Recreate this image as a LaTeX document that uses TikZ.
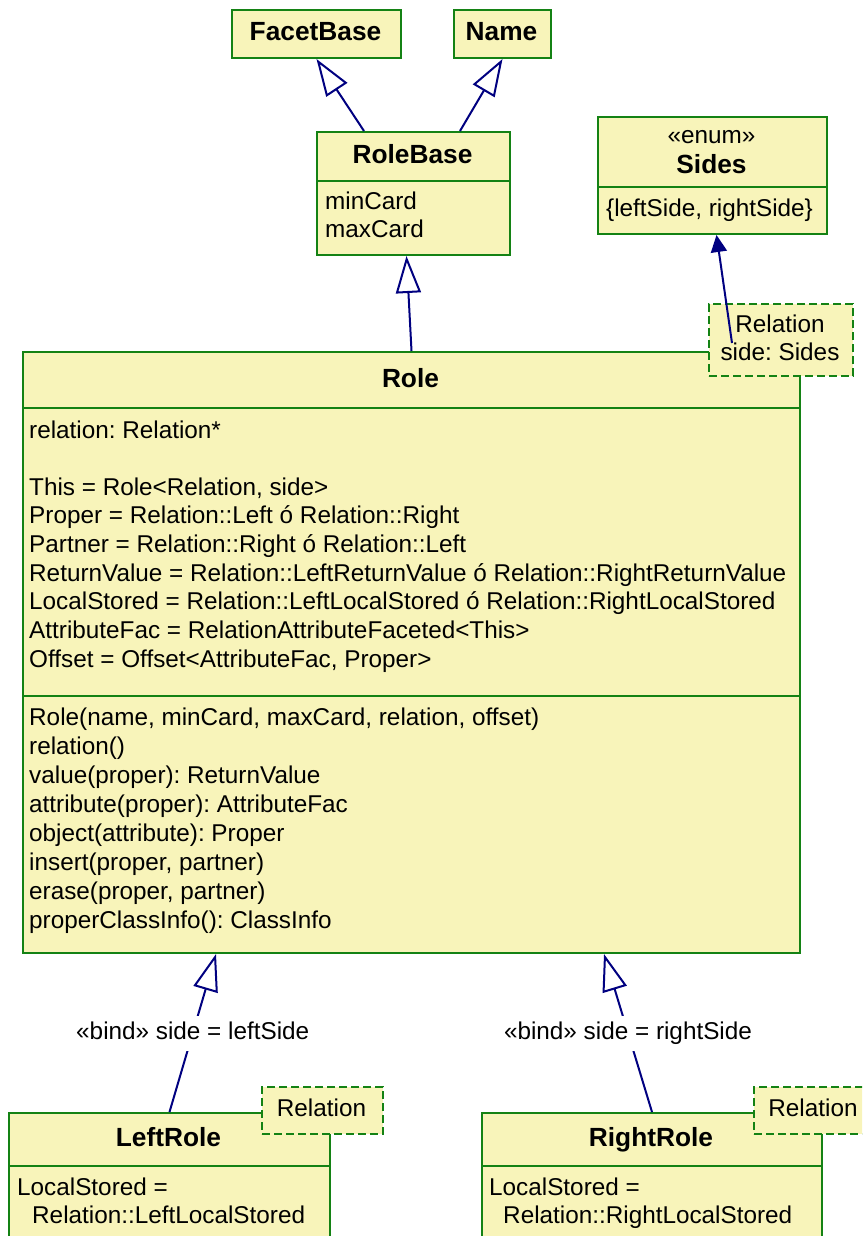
\documentclass[tikz,border=0pt]{standalone}
\usepackage{fontspec}
\setmainfont{Liberation Sans}
\usepackage{xcolor}
\usepackage{tikz}
\usetikzlibrary{arrows.meta}
\definecolor{Gelb}{RGB}{248,244,186}
\definecolor{Gruen}{RGB}{20,130,20}
\definecolor{Navy}{RGB}{0,0,128}
\newcommand{\Schrift}{\fontsize{24.3}{28.7}\selectfont\frenchspacing}
\tikzset{
  Klasse/.style={draw=Gruen, fill=Gelb, line width=2pt, inner sep=0pt, anchor=north west}, % Klassenrahmen
  Vorlage/.style={Klasse, dash pattern=on 8pt off 4pt}, % Template-Parameter
  Trenn/.style={draw=Gruen, line width=2pt}, % Trennlinie im Rahmen
  Zeile/.style={anchor=base west, inner sep=0pt}, % Textzeile
  Mitte/.style={anchor=base, inner sep=0pt},
  Titel/.style={Mitte, font=\fontsize{26.3}{28.7}\selectfont\bfseries},
  Erbt/.style={draw=Navy, line width=2pt, -{Triangle[open, length=37pt, width=25pt]}}, % Vererbung
  Pfeil/.style={draw=Navy, line width=2pt, -{Triangle[length=17pt, width=16pt]}},
  Bind/.style={fill=white, inner sep=6pt, text height=18pt, text depth=5pt}
}

\begin{document}
\begin{tikzpicture}[x=1pt, y=-1pt, font=\Schrift]
\useasboundingbox (0,0) rectangle (862,1236);
\clip (0,0) rectangle (862,1236);

%Klassen
\node[Klasse, minimum width=169, minimum height=48] (FB) at (231,9) {};
\node[Klasse, minimum width=97, minimum height=48] (NA) at (453,9) {};
\node[Klasse, minimum width=193, minimum height=123] (RB) at (316,131) {};
\node[Klasse, minimum width=229, minimum height=117] (SI) at (597,116) {};
\node[Klasse, minimum width=777, minimum height=601] (RO) at (22,351) {};
\node[Klasse, minimum width=321, minimum height=160] (LR) at (8,1112) {};
\node[Klasse, minimum width=340, minimum height=160] (RR) at (481,1112) {};

%Trennlinien
\foreach \k/\y in {RB/181, SI/187, RO/408, RO/696, LR/1166, RR/1166}
  \draw[Trenn] (\k.west |- 0,\y) -- (\k.east |- 0,\y);

%Template-Parameter
\node[Vorlage, minimum width=144, minimum height=72] (RT) at (708,303) {};
\node[Vorlage, minimum width=121, minimum height=47] (LT) at (261,1086) {};
\node[Vorlage, minimum width=121, minimum height=47] (RRT) at (753,1086) {};

%Texte
\node[Titel] (FB-t) at (315.5,41) {FacetBase};
\node[Titel] (NA-t) at (501.5,41) {Name};

\node[Titel] (RB-t) at (412.5,163) {RoleBase};
\node[Zeile] (RB-a1) at (325,209) {minCard};
\node[Zeile] (RB-a2) at (325,237) {maxCard};

\node[Mitte] (SI-s) at (711.5,143) {«enum»};
\node[Titel] (SI-t) at (711.5,173) {Sides};
\node[Zeile] (SI-a) at (606,216) {\{leftSide, rightSide\}};

\node[Mitte] (RT-1) at (780,332) {Relation};
\node[Mitte] (RT-2) at (780,360) {side: Sides};

\node[Titel] (RO-t) at (410.5,387) {Role};
\node[Zeile] (RO-a) at (29,438) {relation: Relation*};
\foreach \t [count=\i] in {%
  {This = Role<Relation, side>},
  {Proper = Relation::Left ó Relation::Right},
  {Partner = Relation::Right ó Relation::Left},
  {ReturnValue = Relation::LeftReturnValue ó Relation::RightReturnValue},
  {LocalStored = Relation::LeftLocalStored ó Relation::RightLocalStored},
  {AttributeFac = RelationAttributeFaceted<This>},
  {Offset = Offset<AttributeFac, Proper>}}
  \node[Zeile] (RO-a\i) at (29,{495+(\i-1)*28.67}) {\t};
\foreach \t [count=\i] in {%
  {Role(name, minCard, maxCard, relation, offset)},
  {relation()},
  {value(proper): ReturnValue},
  {attribute(proper): AttributeFac},
  {object(attribute): Proper},
  {insert(proper, partner)},
  {erase(proper, partner)},
  {properClassInfo(): ClassInfo}}
  \node[Zeile] (RO-m\i) at (29,{725+(\i-1)*29}) {\t};

\node[Titel] (LR-t) at (168.5,1146) {LeftRole};
\node[Zeile] (LR-a1) at (17,1195) {LocalStored =};
\node[Zeile] (LR-a2) at (32,1223) {Relation::LeftLocalStored};
\node[Mitte] (LT-t) at (321.5,1116) {Relation};

\node[Titel] (RR-t) at (651,1146) {RightRole};
\node[Zeile] (RR-a1) at (489,1195) {LocalStored =};
\node[Zeile] (RR-a2) at (503,1223) {Relation::RightLocalStored};
\node[Mitte] (RRT-t) at (813,1116) {Relation};

%Vererbungspfeile
\draw[Erbt] ([xshift=48]RB.north west) -- (FB.south);
\draw[Erbt] ([xshift=144]RB.north west) -- (NA.south);
\draw[Erbt] (RO.north) -- ([xshift=-7]RB.south);
\draw[Erbt] (LR.north) -- node[Bind] (LB) {«bind» side = leftSide} ([xshift=194]RO.south west);
\draw[Erbt] (RR.north) -- node[Bind] (RBd) {«bind» side = rightSide} ([xshift=582]RO.south west);

%Parametertyp
\coordinate (RT-anker) at (732,343);
\draw[Pfeil] (RT-anker) -- ([xshift=4]SI.south);

\end{tikzpicture}
\end{document}
